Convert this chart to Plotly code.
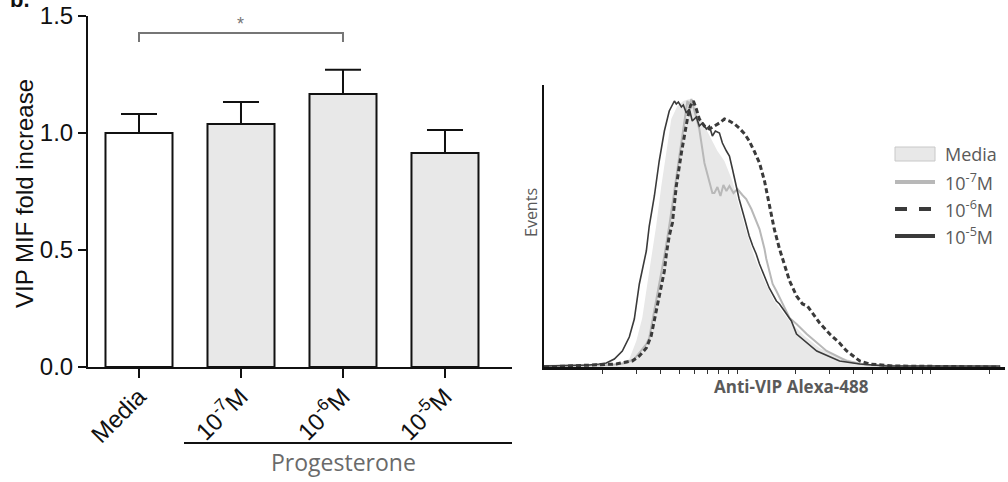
import plotly.graph_objects as go

# ---------------- Data: bar chart ----------------
bar_labels = ["Media", "10<sup>-7</sup>M", "10<sup>-6</sup>M", "10<sup>-5</sup>M"]
bar_means = [1.00, 1.038, 1.167, 0.915]
bar_sem = [0.081, 0.094, 0.103, 0.098]
bar_fills = ["#ffffff", "#e8e8e8", "#e8e8e8", "#e8e8e8"]

# ---------------- Data: flow histograms ----------------
legend_names = ["Media", "10<sup>-7</sup>M", "10<sup>-6</sup>M", "10<sup>-5</sup>M"]

media_I = [1.0, 1.93, 2.31, 2.45, 2.76, 3.00, 3.22, 3.42, 3.63, 3.80, 4.04, 4.29, 4.55, 4.89,
           5.25, 5.64, 5.99, 6.35, 7.16, 7.88, 8.56, 9.42, 10.2, 11.1, 12.2, 13.8, 15.5, 18.6,
           22.2, 26.6, 33.7, 42.9, 54.5, 228]
media_E = [0, 1, 2, 3, 8, 26, 49, 83, 116, 141, 181, 214, 248, 261,
           266, 268, 266, 251, 231, 216, 206, 186, 161, 136, 111, 86, 66, 46,
           31, 19, 10, 4, 1, 0]

d7_I = [1.0, 2.17, 2.45, 2.66, 2.93, 3.18, 3.38, 3.50, 3.76, 3.94, 4.19, 4.44, 4.72, 5.01,
        5.25, 5.44, 5.51, 5.64, 5.78, 5.92, 6.13, 6.35, 6.75, 7.16, 7.42, 7.60, 7.88, 8.17,
        8.46, 8.77, 9.09, 9.54, 10.0, 10.6, 11.1, 11.8, 12.5, 13.0, 13.8, 14.1, 15.2, 15.9,
        18.6, 20.2, 22.8, 28.9, 36.7, 46.6, 69.1, 228]
d7_E = [1, 2, 3, 4, 8, 16, 23, 29, 61, 81, 111, 141, 176, 211,
        241, 261, 266, 262, 268, 260, 248, 238, 204, 184, 174, 174, 180, 171,
        182, 176, 181, 174, 178, 172, 168, 158, 146, 138, 118, 108, 83, 76,
        49, 43, 33, 16, 6, 2, 1, 0]

d6_I = [1.0, 1.93, 2.36, 2.66, 2.86, 3.11, 3.38, 3.58, 3.72, 3.90, 4.04, 4.19, 4.29, 4.44,
        4.61, 4.83, 5.13, 5.31, 5.51, 5.71, 5.92, 6.13, 6.35, 6.75, 7.16, 7.60, 8.07, 8.56,
        9.09, 9.64, 10.2, 10.9, 11.5, 12.2, 13.0, 13.8, 14.6, 15.5, 16.5, 18.6, 20.2, 21.7,
        23.0, 25.0, 26.6, 30.0, 33.7, 36.7, 40.4, 42.9, 48.3, 63.5, 228]
d6_E = [0, 2, 3, 5, 6, 11, 19, 31, 46, 66, 79, 96, 113, 131,
        144, 181, 214, 231, 248, 261, 266, 258, 248, 241, 238, 241, 244, 248,
        246, 243, 239, 233, 226, 216, 204, 186, 161, 138, 118, 86, 71, 63,
        61, 51, 44, 33, 24, 16, 10, 6, 3, 1, 0]

d5_I = [1.0, 1.71, 1.93, 2.10, 2.31, 2.45, 2.54, 2.76, 2.93, 3.11, 3.22, 3.38, 3.50, 3.72,
        3.94, 4.19, 4.44, 4.72, 4.83, 4.95, 5.13, 5.25, 5.44, 5.64, 5.84, 6.13, 6.35, 6.59,
        6.91, 7.16, 7.42, 7.69, 8.07, 8.36, 8.77, 9.09, 9.42, 9.88, 10.2, 10.9, 11.5, 12.0,
        12.5, 13.0, 14.6, 15.9, 16.5, 19.0, 20.2, 25.7, 33.7, 42.9, 59.2, 228]
d5_E = [1, 2, 3, 4, 8, 13, 16, 30, 48, 83, 96, 116, 141, 171,
        206, 236, 256, 266, 263, 265, 260, 262, 254, 258, 246, 250, 241, 244,
        238, 241, 231, 236, 234, 224, 216, 211, 198, 181, 168, 148, 131, 121,
        113, 103, 79, 66, 63, 46, 33, 16, 6, 3, 1, 1]

x_minor_ticks = [2, 3, 4, 5, 6, 7, 8, 9, 10, 20, 30, 40, 50, 60, 70, 80, 90, 100, 200]

W, H = 1008, 482
def px(x):
    return x / W
def py(y):
    return 1 - y / H

DARK = "#3a3a3a"
GREY_TXT = "#5a5a5a"
ARIAL = "Liberation Sans, Arial, sans-serif"
MYRIAD = "Open Sans, sans-serif"

fig = go.Figure()

# ---------- bar chart ----------
xs = list(range(len(bar_means)))
fig.add_trace(go.Bar(
    x=xs, y=bar_means, width=0.657,
    marker=dict(color=bar_fills, line=dict(color="#111111", width=2)),
    error_y=dict(type="data", array=bar_sem, arrayminus=[0] * len(bar_sem),
                 symmetric=False, color="#111111", thickness=2, width=18),
    xaxis="x", yaxis="y", showlegend=False,
))

# significance bracket (Media vs 10^-6 M)
fig.add_shape(type="path", xref="x", yref="y",
              path="M 0,1.389 L 0,1.427 L 2,1.427 L 2,1.389",
              line=dict(color="#767676", width=2))
fig.add_annotation(x=1, y=1.465, xref="x", yref="y", text="*", showarrow=False,
                   xanchor="center", yanchor="middle",
                   font=dict(family=ARIAL, size=18, color="#767676"))

# ---------- histograms ----------
fig.add_trace(go.Scatter(x=media_I, y=media_E, mode="lines", fill="tozeroy",
                         fillcolor="#e8e8e8", line=dict(width=0, color="#e8e8e8"),
                         xaxis="x2", yaxis="y2", showlegend=False, name="Media"))
fig.add_trace(go.Scatter(x=d7_I, y=d7_E, mode="lines",
                         line=dict(color="#b8b8b8", width=2),
                         xaxis="x2", yaxis="y2", showlegend=False, name="10-7M"))
fig.add_trace(go.Scatter(x=d6_I, y=d6_E, mode="lines",
                         line=dict(color=DARK, width=3, dash="5px,3px"),
                         xaxis="x2", yaxis="y2", showlegend=False, name="10-6M"))
fig.add_trace(go.Scatter(x=d5_I, y=d5_E, mode="lines",
                         line=dict(color=DARK, width=1.6),
                         xaxis="x2", yaxis="y2", showlegend=False, name="10-5M"))

# ---------- layout ----------
fig.update_layout(
    width=W, height=H,
    margin=dict(l=0, r=0, t=0, b=0, autoexpand=False),
    paper_bgcolor="white", plot_bgcolor="rgba(0,0,0,0)",
    showlegend=False,
    title=dict(text="<b>b.</b>", x=px(10), xanchor="left", xref="paper",
               y=1 - 7 / H, yanchor="bottom", yref="container",
               font=dict(family=ARIAL, size=22, color="#111111")),
    xaxis=dict(domain=[px(88), px(512)], range=[-0.5, 3.657],
               tickmode="array", tickvals=xs, ticktext=bar_labels, tickangle=-45,
               ticks="outside", ticklen=9, tickwidth=2, tickcolor="#111111",
               ticklabelstandoff=-5,
               showline=True, linewidth=2, linecolor="#111111",
               showgrid=False, zeroline=False,
               tickfont=dict(family=ARIAL, size=24, color="#111111"), anchor="y"),
    yaxis=dict(domain=[py(367), py(16)], range=[0, 1.5],
               tickmode="array", tickvals=[0, 0.5, 1.0, 1.5], tickformat=".1f",
               ticks="outside", ticklen=8, tickwidth=2, tickcolor="#111111",
               showline=True, linewidth=2, linecolor="#111111",
               showgrid=False, zeroline=False,
               tickfont=dict(family=ARIAL, size=24, color="#111111"), anchor="x"),
    xaxis2=dict(domain=[px(544), px(1005)], type="log", range=[0, 2.383],
                tickmode="array", tickvals=x_minor_ticks, showticklabels=False,
                ticks="outside", ticklen=4, tickwidth=1, tickcolor="#333333",
                showline=True, linewidth=3, linecolor="#111111",
                showgrid=False, zeroline=False, anchor="y2"),
    yaxis2=dict(domain=[py(367), py(85)], range=[0, 282],
                showticklabels=False, ticks="",
                showline=True, linewidth=2, linecolor="#111111",
                showgrid=False, zeroline=False, anchor="x2"),
)

# axis titles / labels
fig.add_annotation(x=px(24), y=py(194), xref="paper", yref="paper",
                   xanchor="center", yanchor="middle",
                   text="VIP MIF fold increase", textangle=-90, showarrow=False,
                   font=dict(family=ARIAL, size=24, color="#111111"))
fig.add_shape(type="line", xref="paper", yref="paper",
              x0=px(184), x1=px(512), y0=py(443), y1=py(443),
              line=dict(color="#111111", width=2))
fig.add_annotation(x=px(343), y=py(462), xref="paper", yref="paper",
                   xanchor="center", yanchor="middle",
                   text="Progesterone", showarrow=False,
                   font=dict(family=MYRIAD, size=23, color="#6a6a6a"))

fig.add_annotation(x=px(531), y=py(213), xref="paper", yref="paper",
                   xanchor="center", yanchor="middle",
                   text="Events", textangle=-90, showarrow=False,
                   font=dict(family=MYRIAD, size=16, color=GREY_TXT))
fig.add_annotation(x=px(791), y=py(386), xref="paper", yref="paper",
                   xanchor="center", yanchor="middle",
                   text="<b>Anti-VIP Alexa-488</b>", showarrow=False,
                   font=dict(family=MYRIAD, size=17, color=GREY_TXT))

# manual legend
row_y = [154, 182, 209, 236]
styles = [
    dict(kind="box"),
    dict(kind="line", color="#b8b8b8", width=4, dash="solid"),
    dict(kind="line", color=DARK, width=4, dash="dash"),
    dict(kind="line", color=DARK, width=4, dash="solid"),
]
for name, yy, st in zip(legend_names, row_y, styles):
    if st["kind"] == "box":
        fig.add_shape(type="rect", xref="paper", yref="paper",
                      x0=px(895), x1=px(935), y0=py(yy + 7), y1=py(yy - 7),
                      fillcolor="#e8e8e8", line=dict(color="#c8c8c8", width=1))
    else:
        fig.add_shape(type="line", xref="paper", yref="paper",
                      x0=px(895), x1=px(935), y0=py(yy), y1=py(yy),
                      line=dict(color=st["color"], width=st["width"], dash=st["dash"]))
    fig.add_annotation(x=px(943), y=py(yy), xref="paper", yref="paper",
                       xanchor="left", yanchor="middle", text=name, showarrow=False,
                       font=dict(family=MYRIAD, size=18, color=GREY_TXT))

fig.write_html("out.html",
               config={"displayModeBar": False},
               post_script="document.body.style.margin='0px';"
                           "document.body.style.overflow='hidden';")
